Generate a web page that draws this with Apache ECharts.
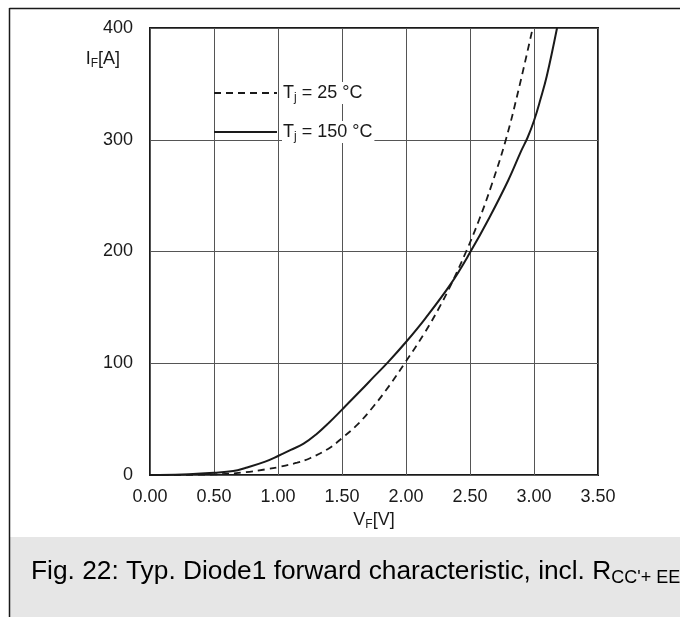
<!DOCTYPE html>
<html>
<head>
<meta charset="utf-8">
<script src="https://cdn.jsdelivr.net/npm/echarts@6/dist/echarts.min.js"></script>
<style>
  html, body { margin: 0; padding: 0; background: #fff; }
  #chart { width: 680px; height: 617px; }
</style>
</head>
<body>
<div id="chart"></div>
<script>
// Forward characteristic, Tj = 25 °C (dashed)
const vf25 = [0, 0.5, 0.75, 0.9, 1.0, 1.15, 1.25, 1.4, 1.5, 1.62, 1.75, 1.87, 1.99, 2.15, 2.27, 2.35, 2.47, 2.57, 2.67, 2.78, 2.88, 2.99];
const if25 = [0, 0.5, 2.5, 5, 7, 11, 15, 24, 33, 45, 62, 80, 100, 128, 152, 170, 200, 228, 260, 300, 345, 400];

// Forward characteristic, Tj = 150 °C (solid)
const vf150 = [0, 0.25, 0.5, 0.65, 0.75, 0.9, 1.0, 1.1, 1.2, 1.3, 1.4, 1.5, 1.65, 1.75, 1.86, 2.0, 2.15, 2.35, 2.5, 2.65, 2.8, 2.9, 2.95, 3.0, 3.05, 3.1, 3.18];
const if150 = [0, 0.5, 2, 3.5, 6.5, 12, 17, 22.5, 28, 36.5, 47, 58.5, 76, 88, 101, 119, 140, 171, 199, 230, 264, 290, 302, 317, 336, 357, 400];

const seriesNames = ['25', '150'];
const xTicks = { min: 0, max: 3.5, step: 0.5 };
const yTicks = { min: 0, max: 400, step: 100 };

const pairs = (xs, ys) => xs.map((x, i) => [x, ys[i]]);

const FONT = '"Liberation Sans", Arial, Helvetica, sans-serif';
const INK = '#1a1a1a';

const chart = echarts.init(document.getElementById('chart'), null, { renderer: 'canvas' });

const subRich = {
  t: { fontFamily: FONT, fontSize: 18, color: INK },
  s: { fontFamily: FONT, fontSize: 12, color: INK, padding: [10, 0, 0, 0] }
};

chart.setOption({
  animation: false,
  backgroundColor: '#fff',
  grid: {
    left: 150, top: 28, width: 448, height: 447,
    show: true, borderColor: INK, borderWidth: 2, backgroundColor: 'transparent'
  },
  xAxis: {
    type: 'value',
    min: xTicks.min, max: xTicks.max, interval: xTicks.step,
    axisLine: { show: false },
    axisTick: { show: false },
    splitLine: { show: true, lineStyle: { color: '#555', width: 1 } },
    axisLabel: {
      fontFamily: FONT, fontSize: 18, color: INK, margin: 13,
      showMinLabel: true, showMaxLabel: true,
      formatter: v => v.toFixed(2)
    },
    name: '{t|V}{s|F}{t|[V]}',
    nameLocation: 'middle',
    nameGap: 34,
    nameTextStyle: { rich: subRich }
  },
  yAxis: {
    type: 'value',
    min: yTicks.min, max: yTicks.max, interval: yTicks.step,
    axisLine: { show: false },
    axisTick: { show: false },
    splitLine: { show: true, lineStyle: { color: '#555', width: 1 } },
    axisLabel: { fontFamily: FONT, fontSize: 18, color: INK, margin: 17 },
    name: '{t|I}{s|F}{t|[A]}',
    nameLocation: 'end',
    nameGap: -31,
    nameTextStyle: { rich: subRich, align: 'right', verticalAlign: 'middle', padding: [0, 30, 0, 0] }
  },
  legend: {
    orient: 'vertical',
    left: 208, top: 77,
    itemWidth: 63, itemHeight: 14, itemGap: 17,
    itemStyle: { opacity: 0 },
    data: seriesNames,
    formatter: name => '{t|T}{s|j}{t| = ' + name + ' °C}',
    textStyle: { rich: subRich, backgroundColor: '#fff', padding: [0, 2, 0, 1] }
  },
  series: [
    {
      name: seriesNames[0], type: 'line', data: pairs(vf25, if25),
      smooth: 0.4, symbol: 'none',
      lineStyle: { color: INK, width: 1.8, type: [7, 5] },
      itemStyle: { color: INK }
    },
    {
      name: seriesNames[1], type: 'line', data: pairs(vf150, if150),
      smooth: 0.4, symbol: 'none',
      lineStyle: { color: INK, width: 2, type: 'solid' },
      itemStyle: { color: INK }
    }
  ],
  graphic: [
    // figure frame
    { type: 'line', shape: { x1: 9.5, y1: 8.5, x2: 680, y2: 8.5 }, style: { stroke: INK, lineWidth: 1.5 } },
    // caption band
    { type: 'rect', shape: { x: 10, y: 537, width: 670, height: 80 }, style: { fill: '#e6e6e6' } },
    { type: 'line', shape: { x1: 9.5, y1: 8, x2: 9.5, y2: 617 }, style: { stroke: INK, lineWidth: 1.5 }, z: 10 },
    {
      type: 'text', left: 31, top: 559,
      style: {
        text: '{m|Fig. 22: Typ. Diode1 forward characteristic, incl. R}{b|CC\'+ EE}',
        rich: {
          m: { fontFamily: FONT, fontSize: 26.3, color: INK },
          b: { fontFamily: FONT, fontSize: 18, color: INK, padding: [12, 0, 0, 0] }
        }
      }
    }
  ]
});
</script>
</body>
</html>
